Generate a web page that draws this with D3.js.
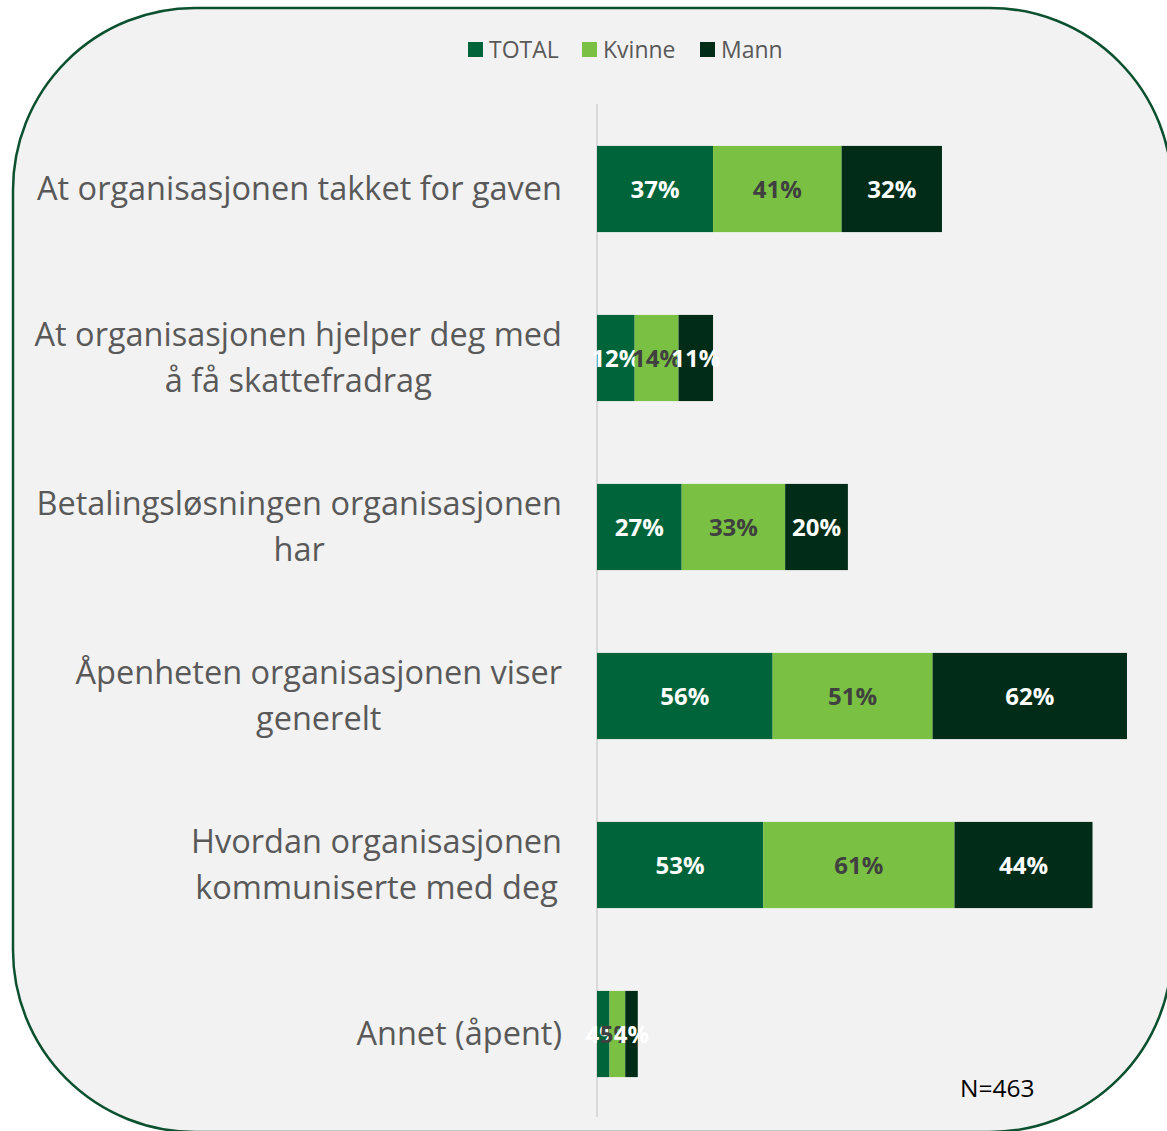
<!DOCTYPE html>
<html>
<head>
<meta charset="utf-8">
<script src="https://cdn.jsdelivr.net/npm/d3@7"></script>
<style>
  body { margin: 0; background: #ffffff; }
  svg { display: block; font-family: "Open Sans", "Noto Sans", sans-serif; }
</style>
</head>
<body>
<script>
var categories = [
  ["At organisasjonen takket for gaven"],
  ["At organisasjonen hjelper deg med", "å få skattefradrag"],
  ["Betalingsløsningen organisasjonen", "har"],
  ["Åpenheten organisasjonen viser", "generelt"],
  ["Hvordan organisasjonen", "kommuniserte med deg"],
  ["Annet (åpent)"]
];
var seriesNames = ["TOTAL", "Kvinne", "Mann"];
var totalValues = [37, 12, 27, 56, 53, 4];
var kvinneValues = [41, 14, 33, 51, 61, 5];
var mannValues = [32, 11, 20, 62, 44, 4];
var colors = ["#00643a", "#7ac143", "#002c18"];
var labelColors = ["#ffffff", "#404040", "#ffffff"];

var width = 1167, height = 1131;

var svg = d3.select("body").append("svg")
  .attr("width", width)
  .attr("height", height);

// panel
svg.append("rect")
  .attr("x", 13).attr("y", 8)
  .attr("width", 1159).attr("height", 1124)
  .attr("rx", 182).attr("ry", 182)
  .attr("fill", "#f2f2f2")
  .attr("stroke", "#0b5130")
  .attr("stroke-width", 2.5);

var keys = categories.map(function(c) { return c.join(" "); });
var rows = keys.map(function(k, i) {
  return { key: k, TOTAL: totalValues[i], Kvinne: kvinneValues[i], Mann: mannValues[i] };
});

var x = d3.scaleLinear().domain([0, 169]).range([597, 1127]);
var y = d3.scaleBand().domain(keys).range([104.5, 1118.5])
  .paddingInner(0.49).paddingOuter(0.245);

var stack = d3.stack().keys(seriesNames)(rows);

// axis line
svg.append("line")
  .attr("x1", x(0)).attr("x2", x(0))
  .attr("y1", 104).attr("y2", 1117)
  .attr("stroke", "#d9d9d9").attr("stroke-width", 2);

var groups = svg.selectAll("g.series")
  .data(stack)
  .enter().append("g")
  .attr("class", "series");

groups.selectAll("rect")
  .data(function(s) { return s; })
  .enter().append("rect")
  .attr("x", function(d) { return x(d[0]); })
  .attr("y", function(d) { return y(d.data.key); })
  .attr("width", function(d) { return x(d[1]) - x(d[0]); })
  .attr("height", y.bandwidth())
  .attr("fill", function(d) { return colors[d3.select(this.parentNode).datum().index]; });

groups.each(function(s, si) {
  d3.select(this).selectAll("text")
    .data(s)
    .enter().append("text")
    .attr("x", function(d) { return (x(d[0]) + x(d[1])) / 2; })
    .attr("y", function(d) { return y(d.data.key) + y.bandwidth() / 2; })
    .attr("dy", "0.36em")
    .attr("text-anchor", "middle")
    .attr("font-size", 24)
    .attr("font-weight", "bold")
    .attr("fill", labelColors[si])
    .text(function(d) { return (d[1] - d[0]) + "%"; });
});

// category labels
categories.forEach(function(lines, i) {
  var cy = y(keys[i]) + y.bandwidth() / 2;
  var g = svg.append("g");
  var lh = 46;
  var texts = lines.map(function(line, j) {
    return g.append("text")
      .attr("y", cy + (j - (lines.length - 1) / 2) * lh)
      .attr("dy", "0.35em")
      .attr("font-size", 32.5)
      .attr("fill", "#595959")
      .attr("text-anchor", "middle")
      .text(line);
  });
  var maxW = d3.max(texts, function(t) { return t.node().getComputedTextLength(); });
  texts.forEach(function(t) { t.attr("x", 562 - maxW / 2); });
});

// legend
var legendX = [468, 582, 700];
seriesNames.forEach(function(name, i) {
  svg.append("rect")
    .attr("x", legendX[i]).attr("y", 42)
    .attr("width", 15).attr("height", 15)
    .attr("fill", colors[i]);
  svg.append("text")
    .attr("x", legendX[i] + 21).attr("y", 50)
    .attr("dy", "0.35em")
    .attr("font-size", 23)
    .attr("fill", "#595959")
    .text(name);
});

svg.append("text")
  .attr("x", 960).attr("y", 1097)
  .attr("font-size", 24.5)
  .attr("fill", "#000000")
  .text("N=463");
</script>
</body>
</html>
